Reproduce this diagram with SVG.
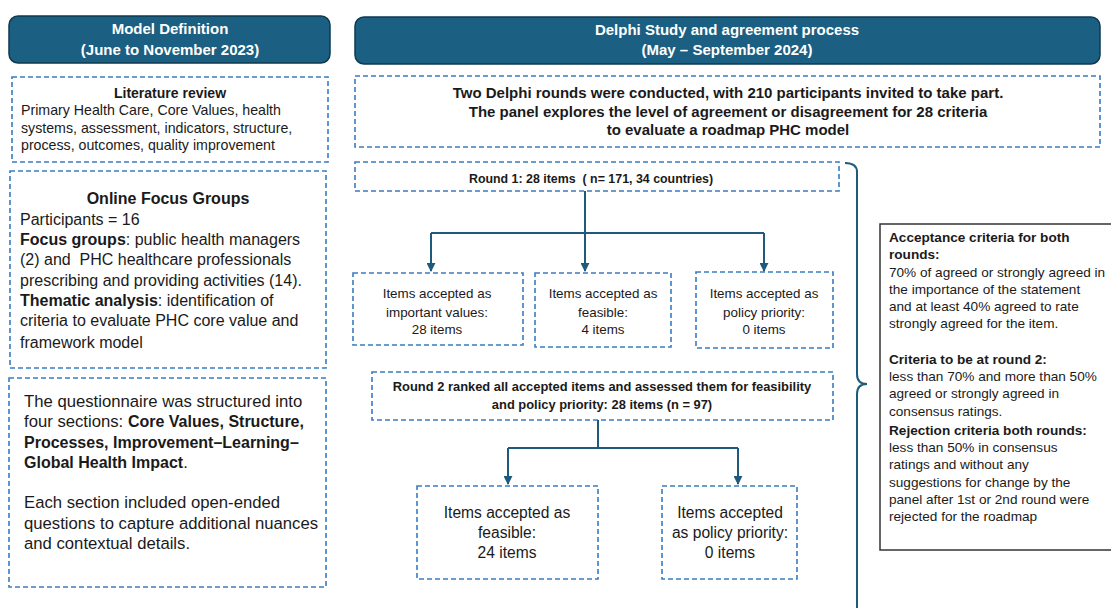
<svg xmlns="http://www.w3.org/2000/svg" width="1111" height="608" viewBox="0 0 1111 608">
<defs>
<marker id="arr" viewBox="0 0 10 10" refX="9" refY="5" markerWidth="4.5" markerHeight="4.5" orient="auto" markerUnits="strokeWidth">
<path d="M0,0 L10,5 L0,10 z" fill="#1d5a7c"/>
</marker>
<style>
.hdr{fill:#1b5f82;stroke:#0f3a50;stroke-width:1.5}
.hdrt{font-family:"Liberation Sans",Arial,sans-serif;font-weight:bold;font-size:15px;fill:#fff;text-anchor:middle}
.dash{fill:#fff;stroke:#3a7cc0;stroke-width:1.6;stroke-dasharray:5 3}
.t{font-family:"Liberation Sans",Arial,sans-serif;fill:#1a1a1a}
.b{font-weight:bold}
.c{text-anchor:middle}
.con{fill:none;stroke:#1d5a7c;stroke-width:2}
</style>
</defs>
<rect width="1111" height="608" fill="#fff"/>

<g id="hdr-left">
<rect class="hdr" x="9" y="16" width="321" height="47" rx="9"/>
<text class="hdrt" x="170" y="34">Model Definition</text>
<text class="hdrt" x="170" y="55">(June to November 2023)</text>
</g>

<g id="literature">
<rect class="dash" x="12" y="77" width="316" height="85"/>
<text class="t b c" x="170" y="98" font-size="14">Literature review</text>
<text class="t" x="21" y="115" font-size="14.2">Primary Health Care, Core Values, health</text>
<text class="t" x="21" y="133" font-size="14.2">systems, assessment, indicators, structure,</text>
<text class="t" x="21" y="150" font-size="14.2">process, outcomes, quality improvement</text>
</g>

<g id="focus">
<rect class="dash" x="10" y="171" width="316" height="197"/>
<text class="t b c" x="168" y="204" font-size="16">Online Focus Groups</text>
<text class="t" x="20" y="225" font-size="16">Participants = 16</text>
<text class="t" x="20" y="245" font-size="16"><tspan font-weight="bold">Focus groups</tspan>: public health managers</text>
<text class="t" x="20" y="265" font-size="16" xml:space="preserve">(2) and  PHC healthcare professionals</text>
<text class="t" x="20" y="286" font-size="16">prescribing and providing activities (14).</text>
<text class="t" x="20" y="306" font-size="16"><tspan font-weight="bold">Thematic analysis</tspan>: identification of</text>
<text class="t" x="20" y="326" font-size="16">criteria to evaluate PHC core value and</text>
<text class="t" x="20" y="348" font-size="16">framework model</text>
</g>

<g id="questionnaire">
<rect class="dash" x="9" y="378" width="317" height="209"/>
<text class="t" x="24" y="407" font-size="16.7">The questionnaire was structured into</text>
<text class="t" x="24" y="427" font-size="16.7">four sections: <tspan font-weight="bold" font-size="16">Core Values, Structure,</tspan></text>
<text class="t b" x="24" y="448" font-size="16">Processes, Improvement–Learning–</text>
<text class="t" x="24" y="468" font-size="16.7"><tspan font-weight="bold" font-size="16">Global Health Impact</tspan>.</text>
<text class="t" x="24" y="508" font-size="16.7">Each section included open-ended</text>
<text class="t" x="24" y="529" font-size="16.7">questions to capture additional nuances</text>
<text class="t" x="24" y="549" font-size="16.7">and contextual details.</text>
</g>

<g id="hdr-right">
<rect class="hdr" x="355" y="17" width="745" height="47" rx="9"/>
<text class="hdrt" x="727" y="35">Delphi Study and agreement process</text>
<text class="hdrt" x="727" y="55">(May – September 2024)</text>
</g>

<g id="intro">
<rect class="dash" x="355" y="76" width="745" height="71"/>
<text class="t b c" x="728" y="98" font-size="15">Two Delphi rounds were conducted, with 210 participants invited to take part.</text>
<text class="t b c" x="728" y="117" font-size="15">The panel explores the level of agreement or disagreement for 28 criteria</text>
<text class="t b c" x="728" y="135" font-size="15">to evaluate a roadmap PHC model</text>
</g>

<g id="round1">
<rect class="dash" x="355" y="162" width="484" height="29"/>
<text class="t b c" x="591" y="183" font-size="12.4" xml:space="preserve">Round 1: 28 items  ( n= 171, 34 countries)</text>
</g>

<g id="r1-values">
<rect class="dash" x="353" y="273" width="170" height="72"/>
<text class="t c" x="437" y="298" font-size="13.4">Items accepted as</text>
<text class="t c" x="437" y="317" font-size="13.4">important values:</text>
<text class="t c" x="437" y="334" font-size="13.4">28 items</text>
</g>

<g id="r1-feasible">
<rect class="dash" x="535" y="273" width="136" height="74"/>
<text class="t c" x="603" y="298" font-size="13.4">Items accepted as</text>
<text class="t c" x="603" y="317" font-size="13.4">feasible:</text>
<text class="t c" x="603" y="334" font-size="13.4">4 items</text>
</g>

<g id="r1-policy">
<rect class="dash" x="696" y="272" width="137" height="76"/>
<text class="t c" x="764" y="298" font-size="13.4">Items accepted as</text>
<text class="t c" x="764" y="317" font-size="13.4">policy priority:</text>
<text class="t c" x="764" y="334" font-size="13.4">0 items</text>
</g>

<g id="round2">
<rect class="dash" x="372" y="372" width="461" height="48"/>
<text class="t b c" x="602" y="391" font-size="12.9">Round 2 ranked all accepted items and assessed them for feasibility</text>
<text class="t b c" x="602" y="409" font-size="12.9">and policy priority: 28 items (n = 97)</text>
</g>

<g id="r2-feasible">
<rect class="dash" x="417" y="486" width="181" height="93"/>
<text class="t c" x="507" y="518" font-size="15.6">Items accepted as</text>
<text class="t c" x="507" y="538" font-size="15.6">feasible:</text>
<text class="t c" x="507" y="558" font-size="15.6">24 items</text>
</g>

<g id="r2-policy">
<rect class="dash" x="662" y="486" width="135" height="93"/>
<text class="t c" x="730" y="518" font-size="15.6">Items accepted</text>
<text class="t c" x="730" y="538" font-size="15.6">as policy priority:</text>
<text class="t c" x="730" y="558" font-size="15.6">0 items</text>
</g>

<g id="criteria">
<rect x="880" y="224" width="240" height="326" fill="#fff" stroke="#333" stroke-width="1.5"/>
<g font-size="13.6">
<text class="t b" x="889" y="242">Acceptance criteria for both</text>
<text class="t b" x="889" y="259">rounds:</text>
<text class="t" x="889" y="277">70% of agreed or strongly agreed in</text>
<text class="t" x="889" y="294">the importance of the statement</text>
<text class="t" x="889" y="311">and at least 40% agreed to rate</text>
<text class="t" x="889" y="328">strongly agreed for the item.</text>
<text class="t b" x="889" y="364">Criteria to be at round 2:</text>
<text class="t" x="889" y="381">less than 70% and more than 50%</text>
<text class="t" x="889" y="398">agreed or strongly agreed in</text>
<text class="t" x="889" y="416">consensus ratings.</text>
<text class="t b" x="889" y="435">Rejection criteria both rounds:</text>
<text class="t" x="889" y="452">less than 50% in consensus</text>
<text class="t" x="889" y="469">ratings and without any</text>
<text class="t" x="889" y="487">suggestions for change by the</text>
<text class="t" x="889" y="504">panel after 1st or 2nd round were</text>
<text class="t" x="889" y="521">rejected for the roadmap</text>
</g>
</g>

<g id="connectors">
<path class="con" d="M585,191 V233"/>
<path class="con" d="M431,233 H764"/>
<path class="con" d="M431,233 V271" marker-end="url(#arr)"/>
<path class="con" d="M585,233 V271" marker-end="url(#arr)"/>
<path class="con" d="M764,233 V271" marker-end="url(#arr)"/>
<path class="con" d="M598,420 V448"/>
<path class="con" d="M508,448 H738"/>
<path class="con" d="M508,448 V484" marker-end="url(#arr)"/>
<path class="con" d="M738,448 V484" marker-end="url(#arr)"/>
<path class="con" d="M845,163 Q857,163 857,172 V374 Q857,384 867,384 Q857,384 857,394 V608"/>
</g>
</svg>
